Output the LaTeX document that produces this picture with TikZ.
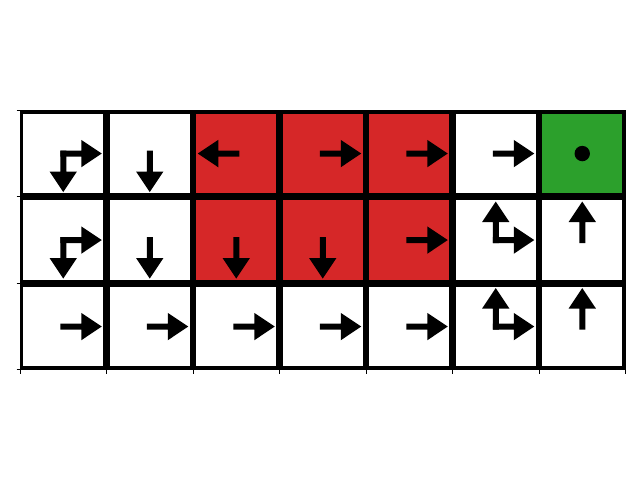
\documentclass[tikz,border=0pt]{standalone}
\definecolor{tred}{HTML}{D62728}
\definecolor{tgreen}{HTML}{2CA02C}
\begin{document}
\begin{tikzpicture}[x=1pt,y=-1pt,
  arrowshape/.pic={\fill[black] (-3,-3) -- (18,-3) -- (18,-13.7) -- (38.5,0) -- (18,13.7) -- (18,3) -- (-3,3) -- cycle;},
  gridline/.style={line width=6.8pt,black},
  tickline/.style={line width=0.9pt,black}]
\useasboundingbox (0,0) rectangle (640,480);
% cell colours
\fill[tred] (193,110.3) rectangle (452.5,283.3);
\fill[tgreen] (539,110.3) rectangle (625.5,196.8);
% grid
\begin{scope}
\clip (20,110.3) rectangle (625.5,369.8);
\foreach \x in {20,106.5,193,279.5,366,452.5,539,625.5}
  \draw[gridline] (\x,105) -- (\x,375);
\foreach \y in {110.3,196.8,283.3,369.8}
  \draw[gridline] (15,\y) -- (630,\y);
\end{scope}
\draw[tickline] (20,110.3) rectangle (625.5,369.8);
% ticks
\foreach \y in {110.3,196.8,283.3,369.8}
  \draw[tickline] (16.5,\y) -- (20,\y);
\foreach \x in {20,106.5,193,279.5,366,452.5,539,625.5}
  \draw[tickline] (\x,369.8) -- (\x,373.6);
% row 1
\pic at (63.25,153.55) {arrowshape};
\pic[rotate=-90] at (63.25,153.55) {arrowshape};
\pic[rotate=-90] at (149.75,153.55) {arrowshape};
\pic[rotate=180] at (236.25,153.55) {arrowshape};
\pic at (322.75,153.55) {arrowshape};
\pic at (409.25,153.55) {arrowshape};
\pic at (495.75,153.55) {arrowshape};
\fill[black] (582.25,153.55) circle (7.7);
% row 2
\pic at (63.25,240.05) {arrowshape};
\pic[rotate=-90] at (63.25,240.05) {arrowshape};
\pic[rotate=-90] at (149.75,240.05) {arrowshape};
\pic[rotate=-90] at (236.25,240.05) {arrowshape};
\pic[rotate=-90] at (322.75,240.05) {arrowshape};
\pic at (409.25,240.05) {arrowshape};
\pic at (495.75,240.05) {arrowshape};
\pic[rotate=90] at (495.75,240.05) {arrowshape};
\pic[rotate=90] at (582.25,240.05) {arrowshape};
% row 3
\pic at (63.25,326.55) {arrowshape};
\pic at (149.75,326.55) {arrowshape};
\pic at (236.25,326.55) {arrowshape};
\pic at (322.75,326.55) {arrowshape};
\pic at (409.25,326.55) {arrowshape};
\pic at (495.75,326.55) {arrowshape};
\pic[rotate=90] at (495.75,326.55) {arrowshape};
\pic[rotate=90] at (582.25,326.55) {arrowshape};
\end{tikzpicture}
\end{document}
